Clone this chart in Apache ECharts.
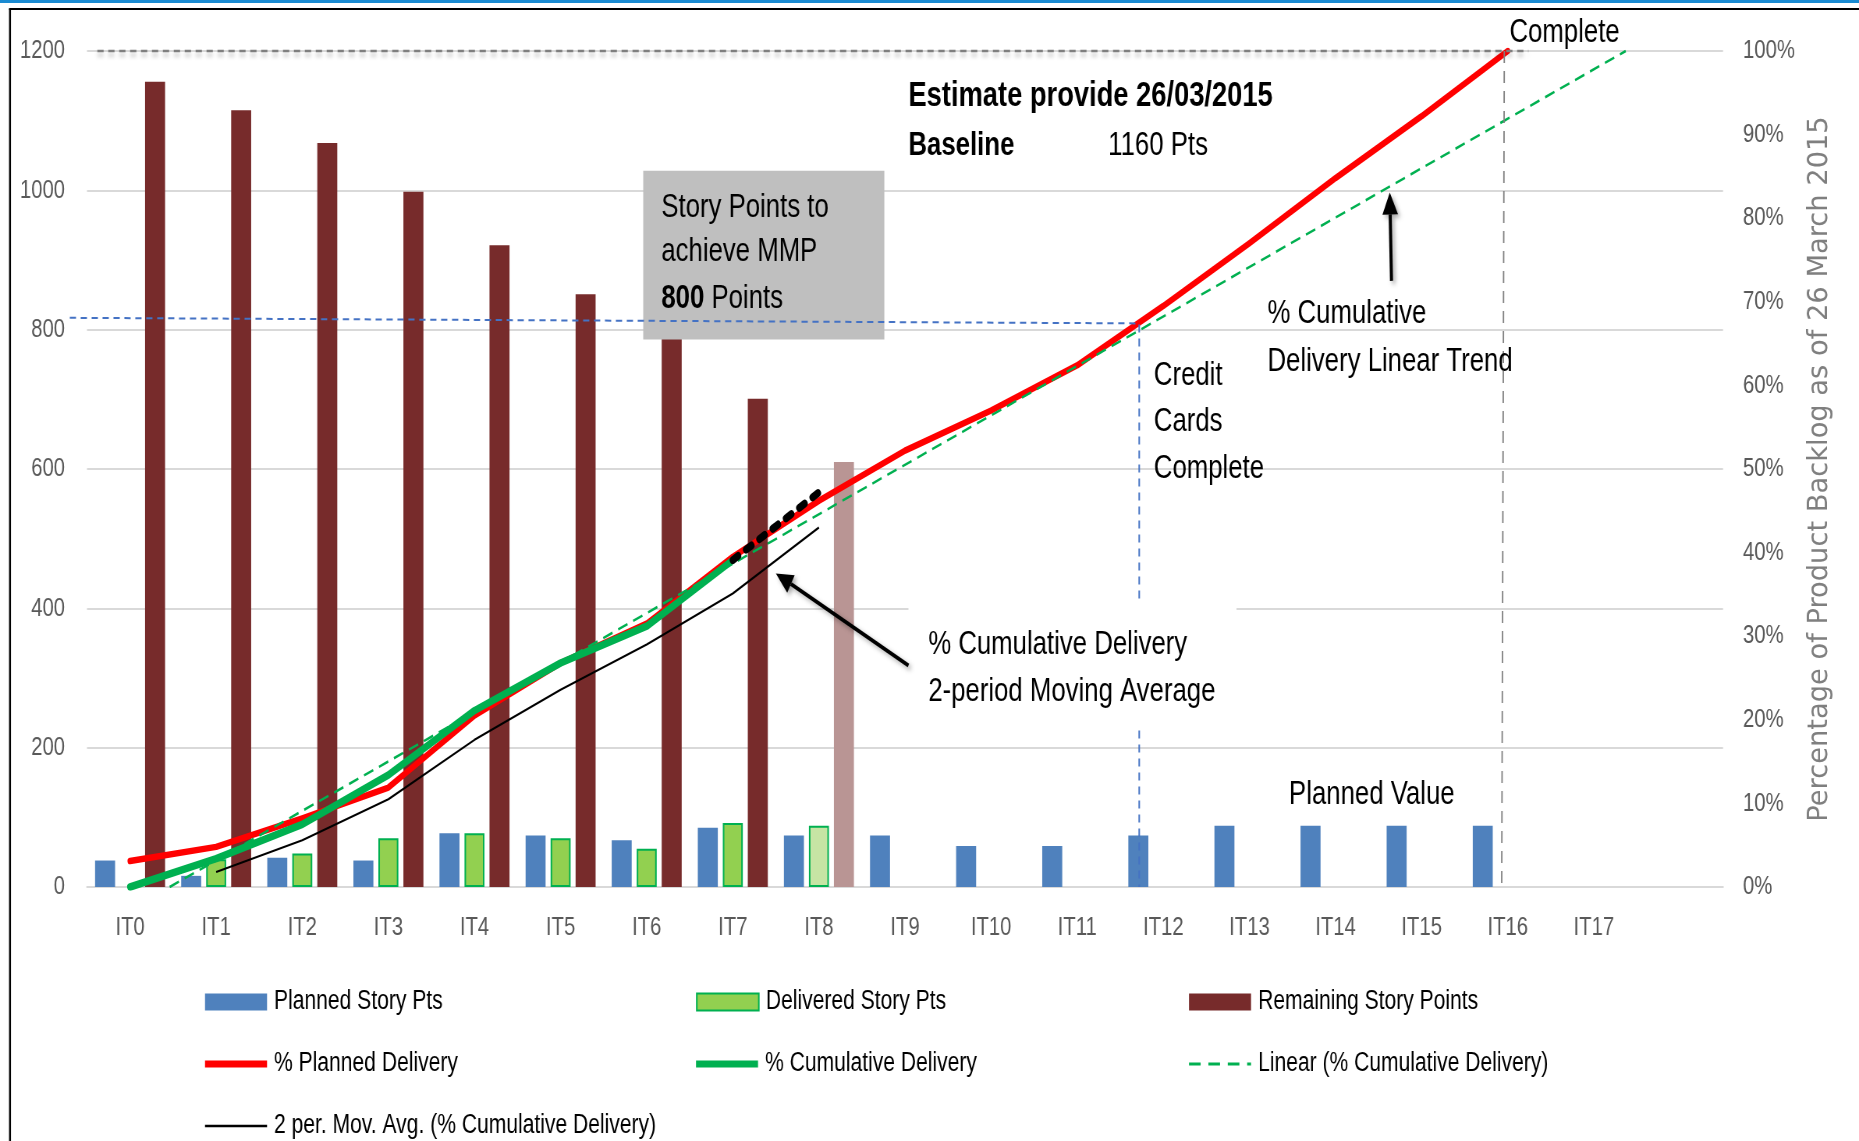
<!DOCTYPE html>
<html><head><meta charset="utf-8">
<script src="https://cdn.jsdelivr.net/npm/echarts@6/dist/echarts.min.js"></script>
<style>
html,body{margin:0;padding:0;background:#fff;overflow:hidden;width:1859px;height:1141px}
#c{width:2383px;height:1141px;transform:scaleX(0.78011);transform-origin:0 0}
</style>
</head><body><div id="c"></div>
<script>
// ---------- DATA ----------
const categories = ['IT0','IT1','IT2','IT3','IT4','IT5','IT6','IT7','IT8','IT9','IT10','IT11','IT12','IT13','IT14','IT15','IT16','IT17',''];
const plannedStoryPts   = [38, 16, 42, 38, 77, 74, 67, 85, 74, 74, 59, 59, 74, 88, 88, 88, 88];
const deliveredStoryPts = [null, 40, 48, 70, 77, 70, 55, 92, 88];
const remainingStoryPts = [1156, 1115, 1068, 998, 921, 851, 797, 701, 610];
const plannedDeliveryPct    = [3.1, 4.8, 8.2, 11.9, 20.5, 26.8, 31.5, 39.5, 46.2, 52.2, 57.0, 62.4, 69.5, 77.0, 84.8, 92.2, 100];
const cumulativeDeliveryPct = [0, 3.4, 7.5, 13.4, 21.1, 26.8, 31.2, 39.1];
const movingAvgPct          = [null, 1.8, 5.6, 10.5, 17.6, 23.6, 29.0, 35.1, 43.0];
const projectedPct          = [null, null, null, null, null, null, null, 39.1, 47.2];
const trendStart = [0.46, 0];     // [iteration index, %]
const trendEnd   = [17.37, 100];
const leftTicks  = [0, 200, 400, 600, 800, 1000, 1200];
const rightTicks = [0, 10, 20, 30, 40, 50, 60, 70, 80, 90, 100];
const rightTitle = 'Percentage of Product Backlog as of 26 March 2015';
const forecastIndex = 8;

// ---------- CHART ----------
const S = 1859 / 2383;            // horizontal squeeze applied by CSS
const FONT = "'Liberation Sans',Arial,sans-serif";
const chart = echarts.init(document.getElementById('c'), null, {renderer:'canvas'});

const colX = [205 / S, 696 / S, 1189 / S];
const rowY = [1002, 1064, 1126];
function leg(name, col, row, icon, ih, extra){
  return Object.assign({
    left: colX[col], top: rowY[row] - 15, padding: 0, orient:'horizontal',
    itemWidth: 79.5, itemHeight: ih, symbolKeepAspect:false, selectedMode:false,
    textStyle:{color:'#000', fontFamily:FONT, fontSize:27, lineHeight:30, padding:[0,0,0,4]},
    data:[{name:name, icon:icon}]
  }, extra || {});
}
const noBorder = {itemStyle:{borderWidth:0}};

const option = {
  animation:false,
  backgroundColor:'#fff',
  grid:{left:87 / S, right:136 / S, top:51, bottom:254},
  legend:[
    leg('Planned Story Pts', 0, 0, 'rect', 17),
    leg('% Planned Delivery', 0, 1, 'rect', 7, noBorder),
    leg('2 per. Mov. Avg. (% Cumulative Delivery)', 0, 2, 'rect', 2.5, noBorder),
    leg('Delivered Story Pts', 1, 0, 'rect', 17),
    leg('% Cumulative Delivery', 1, 1, 'rect', 7, noBorder),
    leg('Remaining Story Points', 2, 0, 'rect', 17),
    leg('Linear (% Cumulative Delivery)', 2, 1, 'path://M0,0h12v3h-12z M20,0h12v3h-12z M40,0h12v3h-12z M60,0h4v3h-4z', 3, noBorder)
  ],
  xAxis:[
    {type:'category', data:categories, boundaryGap:true,
     axisLine:{lineStyle:{color:'#d9d9d9', width:2}}, axisTick:{show:false},
     axisLabel:{color:'#595959', fontFamily:FONT, fontSize:26, margin:28, interval:0}},
    {type:'value', min:-0.5, max:categories.length - 0.5, show:false}
  ],
  yAxis:[
    {type:'value', min:leftTicks[0], max:leftTicks[leftTicks.length-1], interval:leftTicks[1]-leftTicks[0],
     axisLine:{show:false}, axisTick:{show:false},
     axisLabel:{color:'#595959', fontFamily:FONT, fontSize:26, margin:22 / S, formatter:v => String(v)},
     splitLine:{lineStyle:{color:'#d9d9d9', width:2}}},
    {type:'value', position:'right', min:rightTicks[0], max:rightTicks[rightTicks.length-1], interval:rightTicks[1]-rightTicks[0],
     axisLine:{show:false}, axisTick:{show:false}, splitLine:{show:false},
     axisLabel:{color:'#595959', fontFamily:FONT, fontSize:26, margin:20 / S, formatter:'{value}%'}}
  ],
  series:[
    {name:'Planned Story Pts', type:'bar', data:plannedStoryPts, barWidth:20 / S, barGap:'25%',
     itemStyle:{color:'#4f81bd'}, z:2},
    {name:'Delivered Story Pts', type:'bar', barWidth:20 / S, barGap:'25%',
     data:deliveredStoryPts.map((v,i)=> i===forecastIndex ? {value:v, itemStyle:{color:'#c6e4a4'}} : v),
     itemStyle:{color:'#92d050', borderColor:'#00b050', borderWidth:2}, z:2},
    {name:'Remaining Story Points', type:'bar', barWidth:20 / S, barGap:'25%',
     data:remainingStoryPts.map((v,i)=> i===forecastIndex ? {value:v, itemStyle:{color:'#b99594'}} : v),
     itemStyle:{color:'#772b2b'}, z:2},
    {name:'% Planned Delivery', type:'line', yAxisIndex:1, data:plannedDeliveryPct, symbol:'none',
     lineStyle:{color:'#ff0000', width:6.5, cap:'round', join:'round'}, itemStyle:{color:'#ff0000'}, z:3},
    {name:'% Cumulative Delivery', type:'line', yAxisIndex:1, data:cumulativeDeliveryPct, symbol:'none',
     lineStyle:{color:'#00b050', width:7.5, cap:'round', join:'round'}, itemStyle:{color:'#00b050'}, z:4},
    {name:'Linear (% Cumulative Delivery)', type:'line', xAxisIndex:1, yAxisIndex:1, data:[trendStart, trendEnd], symbol:'none',
     lineStyle:{color:'#00b050', width:2.5, type:[13,8]}, itemStyle:{color:'#00b050'}, z:5},
    {name:'2 per. Mov. Avg. (% Cumulative Delivery)', type:'line', yAxisIndex:1, data:movingAvgPct, symbol:'none',
     lineStyle:{color:'#000', width:2.2}, itemStyle:{color:'#000'}, z:5},
    {name:'Projected', type:'line', yAxisIndex:1, data:projectedPct, symbol:'none',
     lineStyle:{color:'#000', width:8, type:[8,12], cap:'round'}, itemStyle:{color:'#000'}, z:6}
  ]
};
chart.setOption(option);

// ---------- ANNOTATIONS (placed in data coordinates) ----------
function P(x, y){ return chart.convertToPixel({xAxisIndex:1, yAxisIndex:0}, [x, y]); }
const g = [];
const W = 2383, H = 1141;
// frame
g.push({type:'rect', shape:{x:0, y:0, width:W, height:3}, style:{fill:'#1a8bd2'}, z:100});
g.push({type:'line', shape:{x1:9 / S, y1:9, x2:W, y2:9}, style:{stroke:'#000', lineWidth:2}, z:100});
g.push({type:'line', shape:{x1:10 / S, y1:9, x2:10 / S, y2:H}, style:{stroke:'#000', lineWidth:2.5}, z:100});

// right axis title (kept unsqueezed like the original)
(function(){ const r = P(categories.length - 0.5, (leftTicks[0] + leftTicks[leftTicks.length-1]) / 2);
  g.push({type:'text', x:r[0] + 124, y:r[1], rotation:Math.PI/2, scaleY:1/S, z:40,
    style:{text:rightTitle, fill:'#7f7f7f', font:"27.3px 'DejaVu Sans',sans-serif", align:'center', verticalAlign:'middle'}}); })();

function rectEl(x1,y1,x2,y2,fill,z){ const a=P(x1,y1), b=P(x2,y2);
  return {type:'rect', shape:{x:a[0], y:a[1], width:b[0]-a[0], height:b[1]-a[1]}, style:{fill:fill}, z:z}; }
function textEl(x,y,txt,size,bold,z){ const a=P(x,y);
  return {type:'text', x:a[0], y:a[1], style:{text:txt, fill:'#000', font:(bold?'bold ':'')+size+'px '+FONT, verticalAlign:'middle', align:'left'}, z:z||30}; }
function polyEl(pts, stroke, width, dash, z, shadow){
  const s = {stroke:stroke, lineWidth:width, lineDash:dash, fill:null};
  if (shadow) Object.assign(s, {shadowBlur:4, shadowColor:'rgba(0,0,0,0.25)', shadowOffsetY:4});
  return {type:'polyline', shape:{points:pts.map(p=>P(p[0],p[1]))}, style:s, z:z}; }
function arrowEl(tail, head, z){
  const a=P(tail[0],tail[1]), b=P(head[0],head[1]);
  const dx=b[0]-a[0], dy=b[1]-a[1], L=Math.hypot(dx,dy), ux=dx/L, uy=dy/L;
  const hl=22, hw=10;
  const base=[b[0]-ux*hl, b[1]-uy*hl];
  const sh={shadowBlur:5, shadowColor:'rgba(0,0,0,0.35)', shadowOffsetX:3, shadowOffsetY:3};
  return [
    {type:'line', shape:{x1:a[0], y1:a[1], x2:base[0], y2:base[1]}, style:Object.assign({stroke:'#000', lineWidth:4}, sh), z:z},
    {type:'polygon', shape:{points:[b, [base[0]-uy*hw, base[1]+ux*hw], [base[0]+uy*hw, base[1]-ux*hw]]}, style:Object.assign({fill:'#000'}, sh), z:z}
  ];
}

// grey MMP box
g.push(rectEl(5.96, 1028, 8.76, 786, '#bfbfbf', 20));
g.push(textEl(6.17, 975, 'Story Points to', 33, false, 21));
g.push(textEl(6.17, 911, 'achieve MMP', 33, false, 21));
(function(){ const a=P(6.17,844);
  g.push({type:'text', x:a[0], y:a[1], z:21,
    style:{text:'{b|800} Points', fill:'#000', font:'33px '+FONT, verticalAlign:'middle', align:'left',
           rich:{b:{font:'bold 33px '+FONT, fill:'#000'}}}}); })();
// blue dashed MMP line + credit cards complete marker
g.push(polyEl([[-0.70, 817],[11.72, 809],[11.72, 0]], '#4472c4', 2, [8,6], 22, false));
// grey complete lines
g.push(polyEl([[-0.38, 1200],[16.24, 1200]], '#7f7f7f', 2.5, [8,6], 22, true));
g.push(polyEl([[15.96, 1200],[15.93, 0]], '#7f7f7f', 1.8, [12,8], 22, false));
// white label box
g.push(rectEl(9.04, 408, 12.85, 232, '#ffffff', 23));
// texts
g.push(textEl(9.04, 1135, 'Estimate provide 26/03/2015', 35, true));
g.push(textEl(9.04, 1064, 'Baseline', 33, true));
g.push(textEl(11.36, 1064, '1160 Pts', 33, false));
g.push(textEl(16.02, 1226, 'Complete', 33, false));
g.push(textEl(11.89, 734, 'Credit', 33, false));
g.push(textEl(11.89, 667, 'Cards', 33, false));
g.push(textEl(11.89, 600, 'Complete', 33, false));
g.push(textEl(13.21, 823, '% Cumulative', 33, false));
g.push(textEl(13.21, 754, 'Delivery Linear Trend', 33, false));
g.push(textEl(9.27, 347, '% Cumulative Delivery', 33, false));
g.push(textEl(9.27, 280, '2-period Moving Average', 33, false));
g.push(textEl(13.46, 132, 'Planned Value', 33, false));
// arrows
arrowEl([9.04, 318],[7.50, 450], 31).forEach(e=>g.push(e));
arrowEl([14.65, 870],[14.63, 997], 31).forEach(e=>g.push(e));

chart.setOption({graphic:{elements:g}});
</script></body></html>
